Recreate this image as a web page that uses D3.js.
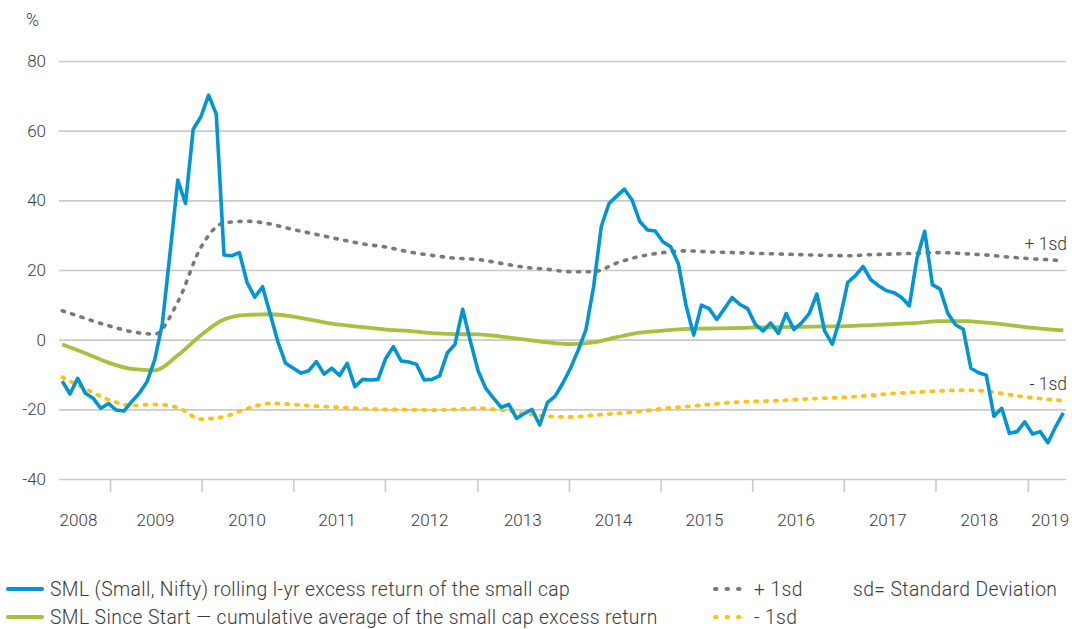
<!DOCTYPE html>
<html><head><meta charset="utf-8">
<script src="https://cdn.jsdelivr.net/npm/d3@7"></script>
<style>
body{margin:0;background:#fff;}
svg text{font-family:Roboto,"Liberation Sans",Arial,sans-serif;font-weight:300;fill:#3a3a3a;}
</style></head><body>
<svg id="c" width="1072" height="629"></svg>
<script>
// ---- data (monthly index 0 = mid-2008 ... 130 = mid-2019) ----
const smlRolling = [
-11.9,-15.6,-11.1,-15.4,-16.8,-19.7,-18.3,-20.2,-20.5,-17.8,
-15.4,-12.1,-5.8,4.7,25,45.8,39.1,60.4,64,70.2,
64.7,24.3,24.1,25,16.4,12.2,15.2,7.4,-0.6,-6.8,
-8.2,-9.6,-8.9,-6.3,-9.9,-8.2,-10.3,-6.8,-13.5,-11.4,
-11.6,-11.4,-5.4,-2,-6.1,-6.4,-7.1,-11.6,-11.4,-10.4,
-3.8,-1.3,8.7,-0.5,-8.9,-14,-16.8,-19.4,-18.6,-22.6,
-21.2,-20,-24.5,-18.1,-16.2,-12.5,-8.2,-3,2.8,15.2,
32.5,39.1,41.2,43.2,40.1,33.9,31.5,31.2,28.1,26.7,
21.9,9.9,1.3,9.9,8.9,5.8,8.9,12.1,10.1,8.9,
4.4,2.5,4.8,1.8,7.5,2.9,4.8,7.5,13.1,2.5,
-1.3,6.1,16.4,18.4,21,17.2,15.5,14.1,13.5,12.1,
9.7,23.4,31.1,15.8,14.5,7.6,4.3,3,-8.2,-9.5,
-10.2,-22,-19.7,-26.9,-26.4,-23.6,-27.1,-26.4,-29.6,-25,
-21];

// smooth series sampled every 3 months
const smoothIdx = [0,3,6,9,12,15,18,21,24,27,30,33,36,39,42,45,48,51,54,57,60,63,66,69,72,75,78,81,84,87,90,93,96,99,102,105,108,111,114,117,120,123,126,129,130];
const smlSinceStart = [-1.4,-3.9,-6.6,-8.4,-8.8,-4.5,1.3,5.8,7.1,7.3,6.6,5.4,4.3,3.6,2.9,2.5,1.9,1.6,1.5,0.9,0.1,-0.8,-1.3,-0.8,0.7,2.0,2.6,3.1,3.2,3.3,3.5,3.6,3.7,3.8,3.9,4.2,4.5,4.8,5.3,5.3,4.9,4.2,3.4,2.8,2.7];
const plus1sd = [8.3,6.1,4.0,2.3,1.6,10.8,26.5,33.5,34.0,33.2,31.6,30.2,28.8,27.5,26.6,25.2,24.2,23.4,23.0,21.9,20.8,20.2,19.5,19.5,22.0,23.9,25.0,25.5,25.2,25.0,24.8,24.6,24.4,24.2,24.1,24.4,24.6,24.8,25.0,24.7,24.3,23.7,23.2,22.8,22.6];
const minus1sd = [-10.8,-14.1,-17.2,-18.9,-18.6,-19.5,-22.8,-22.1,-19.8,-18.3,-18.6,-19.1,-19.4,-19.8,-20.0,-20.1,-20.2,-20.0,-19.7,-20.2,-21.2,-22.0,-22.2,-21.7,-21.2,-20.6,-19.8,-19.2,-18.6,-18.0,-17.7,-17.5,-17.1,-16.8,-16.5,-16.0,-15.4,-15.1,-14.7,-14.5,-14.8,-15.8,-16.7,-17.3,-17.5];

const yTicks = [-40,-20,0,20,40,60,80];
const yearLabels = ["2008","2009","2010","2011","2012","2013","2014","2015","2016","2017","2018","2019"];
const yearLabelIdx = [2.1,12.1,24.0,35.7,47.7,59.8,71.6,83.4,95.3,107.2,119.1,128.3];
const yearTickIdx = [6.2,18.1,30.0,41.9,53.9,65.8,77.7,89.6,101.5,113.4,125.4];

const legendItems = [
  {label:"SML (Small, Nifty) rolling l-yr excess return of the small cap", color:"#0095d4", dotted:false, col:0, row:0},
  {label:"SML Since Start \u2014 cumulative average of the small cap excess return", color:"#a6c13c", dotted:false, col:0, row:1},
  {label:"+ 1sd", color:"#7a7a7a", dotted:true, col:1, row:0},
  {label:"- 1sd", color:"#ffc20e", dotted:true, col:1, row:1}
];

// ---- layout ----
const svg = d3.select("#c");
const gridLeft = 59, gridRight = 1066;
const x = d3.scaleLinear().domain([0,130]).range([62.3,1063.3]);
const y = d3.scaleLinear().domain([-40,80]).range([479,61]);

// y grid + labels
const yAxis = d3.axisLeft(y).tickValues(yTicks).tickSize(-(gridRight-gridLeft)).tickPadding(13).tickFormat(d=>String(d));
const gy = svg.append("g").attr("transform",`translate(${gridLeft},0)`).call(yAxis);
gy.select(".domain").remove();
gy.selectAll(".tick line").attr("stroke","#cacaca").attr("stroke-width",1.6);
gy.selectAll(".tick text").attr("font-size",17).attr("fill","#3a3a3a")
  .attr("font-family",'Roboto,"Liberation Sans",Arial,sans-serif').attr("font-weight",300);

svg.append("text").attr("x",26).attr("y",26).attr("font-size",17.5).text("%");

// x ticks
const xAxis = d3.axisBottom(x).tickValues(yearTickIdx).tickSize(13).tickFormat("");
const gx = svg.append("g").attr("transform",`translate(0,${y(-40)})`).call(xAxis);
gx.select(".domain").remove();
gx.selectAll(".tick line").attr("stroke","#cacaca").attr("stroke-width",1.6);

svg.append("g").selectAll("text").data(yearLabels).join("text")
  .attr("x",(d,i)=>x(yearLabelIdx[i])).attr("y",526)
  .attr("text-anchor","middle").attr("font-size",17).text(d=>d);

// lines
const smoothLine = d3.line().x((d,i)=>x(smoothIdx[i])).y(d=>y(d)).curve(d3.curveMonotoneX);
const dash = "2.2,7.6";
svg.append("path").attr("d",smoothLine(plus1sd)).attr("fill","none")
  .attr("stroke","#7a7a7a").attr("stroke-width",3.6).attr("stroke-dasharray",dash).attr("stroke-linecap","round");
svg.append("path").attr("d",smoothLine(minus1sd)).attr("fill","none")
  .attr("stroke","#ffc20e").attr("stroke-width",3.8).attr("stroke-dasharray",dash).attr("stroke-linecap","round");
svg.append("path").attr("d",smoothLine(smlSinceStart)).attr("fill","none")
  .attr("stroke","#a6c13c").attr("stroke-width",3.8);
const rollLine = d3.line().x((d,i)=>x(i)).y(d=>y(d));
svg.append("path").attr("d",rollLine(smlRolling)).attr("fill","none")
  .attr("stroke","#0095d4").attr("stroke-width",3.6).attr("stroke-linejoin","round");

// line annotations
svg.append("text").attr("x",1067).attr("y",250).attr("text-anchor","end").attr("font-size",17.5).attr("fill","#555").text("+ 1sd");
svg.append("text").attr("x",1067).attr("y",390).attr("text-anchor","end").attr("font-size",17.5).attr("fill","#555").text("- 1sd");

// legend
const colX = [8,712], rowY = [589,617];
const lg = svg.append("g").selectAll("g").data(legendItems).join("g")
  .attr("transform",d=>`translate(${colX[d.col]},${rowY[d.row]})`);
lg.append("line").attr("x1",0).attr("x2",d=>d.dotted?30:34).attr("y1",0).attr("y2",0)
  .attr("stroke",d=>d.color).attr("stroke-width",4)
  .attr("stroke-dasharray",d=>d.dotted?"1.5,10":null)
  .attr("stroke-linecap","round")
  .attr("transform",d=>d.dotted?"translate(3,0)":null);
lg.append("text").attr("x",42).attr("y",6.5).attr("font-size",19.3).attr("letter-spacing",0.4).text(d=>d.label);
svg.append("text").attr("x",853).attr("y",rowY[0]+6.5).attr("font-size",19.3).attr("letter-spacing",0.4).text("sd= Standard Deviation");
</script>
</body></html>
